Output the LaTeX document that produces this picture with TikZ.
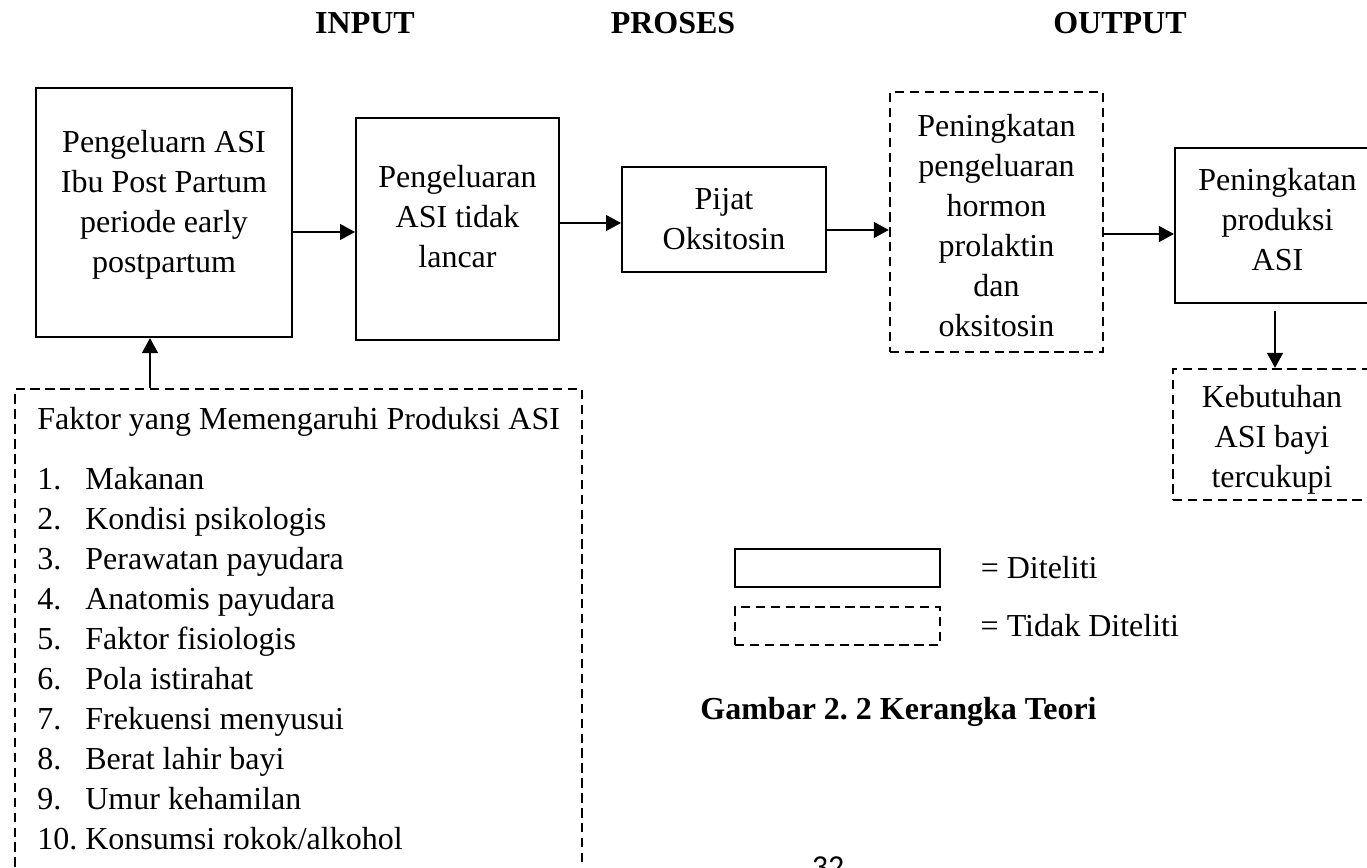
\documentclass[tikz,border=0pt]{standalone}
\usepackage{fontspec}
\setmainfont{Liberation Serif}
\newfontfamily\halfont{Carlito}
\usetikzlibrary{arrows.meta,positioning}
\newcommand{\butir}[2]{\makebox[18pt][l]{#1}#2}

\begin{document}
\begin{tikzpicture}[->, >={Triangle[length=5.6pt,width=6pt]}, line width=0.4pt,
			x=0.375pt, y=-0.375pt,
			font=\fontsize{12}{15}\selectfont,
			every label/.style={align=center, inner sep=0pt},
			kotak/.style={draw, line width=0.8pt, align=center, inner sep=0pt},
			putus/.style={draw, line width=0.9pt, dash pattern=on 3.5pt off 2.1pt, align=center, inner sep=0pt},
			judul/.style={font=\fontsize{12}{15}\selectfont\bfseries, anchor=base}]
			\useasboundingbox (0,0) rectangle (1367,868);

			\node[judul] (input) at (365,34) {INPUT};
			\node[judul] (proses) at (673,34) {PROSES};
			\node[judul] (output) at (1120,34) {OUTPUT};

			\node[kotak, minimum width=96pt, minimum height=93.4pt, label={[yshift=3pt]center:{Pengeluarn ASI\\Ibu Post Partum\\periode early\\postpartum}}] (1) at (164,212.5) {};
			\node[kotak, minimum width=76.1pt, minimum height=83.25pt, label={[yshift=4.8pt]center:{Pengeluaran\\ASI tidak\\lancar}}] (2) at (457.5,229) {};
			\node[kotak, minimum width=76.5pt, minimum height=39.4pt] (3) at (724,219.5) {Pijat\\Oksitosin};
			\node[putus, minimum width=79.9pt, minimum height=97.5pt, label={[yshift=-1.2pt]center:{Peningkatan\\pengeluaran\\hormon\\prolaktin\\dan\\oksitosin}}] (4) at (996.5,222) {};
			\node[kotak, minimum width=76.9pt, minimum height=58.1pt, label={[yshift=2.3pt]center:{Peningkatan\\produksi\\ASI}}] (5) at (1277.5,225.5) {};
			\node[putus, minimum width=74.25pt, minimum height=49.1pt, label={[yshift=-1.9pt]center:{Kebutuhan\\ASI bayi\\tercukupi}}] (6) at (1272,434.5) {};
			\node[putus, align=left, minimum width=212.6pt, inner ysep=6.8pt, anchor=north west] (7) at (14,388) {Faktor yang Memengaruhi Produksi ASI\\[7.5pt]
				\butir{1.}{Makanan}\\
				\butir{2.}{Kondisi psikologis}\\
				\butir{3.}{Perawatan payudara}\\
				\butir{4.}{Anatomis payudara}\\
				\butir{5.}{Faktor fisiologis}\\
				\butir{6.}{Pola istirahat}\\
				\butir{7.}{Frekuensi menyusui}\\
				\butir{8.}{Berat lahir bayi}\\
				\butir{9.}{Umur kehamilan}\\
				\butir{10.}{Konsumsi rokok/alkohol}\\
				\mbox{}};

			\node[kotak, line width=1pt, minimum width=76.9pt, minimum height=14.25pt] (8) at (837.5,568) {};
			\node[putus, minimum width=76.9pt, minimum height=14.25pt] (9) at (837.5,626) {};
			\node[inner sep=0pt] (10) [right=14.6pt of 8] {= Diteliti};
			\node[inner sep=0pt] (11) [right=14.6pt of 9] {= Tidak Diteliti};

			\node[judul] (gambar) at (898.5,720) {Gambar 2.\ 2 Kerangka Teori};
			\node[font=\fontsize{12}{15}\selectfont\halfont, anchor=base] (hal) at (828,877) {32};

			\coordinate (a12) at (0,232);
			\coordinate (a23) at (0,223);
			\coordinate (a34) at (0,230);
			\coordinate (a45) at (0,234);
			\coordinate (a56) at (1275,0);
			\coordinate (a71) at (150,0);

			\path
			  (1.east |- a12) edge (2.west |- a12)
			  (2.east |- a23) edge (3.west |- a23)
			  (3.east |- a34) edge (4.west |- a34)
			  (4.east |- a45) edge (5.west |- a45)
			  (5.south -| a56) edge[shorten <=2.6pt] (6.north -| a56)
			  (7.north -| a71) edge (1.south -| a71);

		  \end{tikzpicture}
\end{document}
